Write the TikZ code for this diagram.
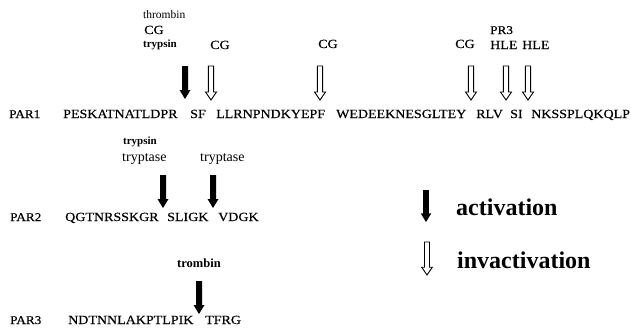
\documentclass[tikz,border=0pt]{standalone}
\usepackage{fontspec}
\setmainfont{Liberation Serif}
% wide, slightly heavy face for the amino-acid sequences and protease codes
\newfontfamily\seqfont[FakeStretch=1.12, FakeBold=0.4]{Liberation Serif}
\begin{document}
\begin{tikzpicture}[x=1pt,y=-1pt,
  seq/.style={font=\seqfont\fontsize{12.5}{14}\selectfont, inner sep=0pt, anchor=base west},
  parlab/.style={font=\seqfont\fontsize{11.8}{13}\selectfont, inner sep=0pt, anchor=base west},
  enzyme/.style={font=\seqfont\fontsize{12.5}{15}\selectfont, inner sep=0pt, anchor=base west},
  smallbold/.style={font=\bfseries\fontsize{11}{13}\selectfont, inner sep=0pt, anchor=base west},
  smallreg/.style={font=\fontsize{11.5}{13}\selectfont, inner sep=0pt, anchor=base west},
  tryptaselab/.style={font=\fontsize{14}{16}\selectfont, inner sep=0pt, anchor=base west},
  legendlab/.style={font=\bfseries\fontsize{24}{28}\selectfont, inner sep=0pt, anchor=base west},
  actarrow/.pic={\fill (-3,0) -- (3,0) -- (3,24) -- (5.5,24) -- (0,33) -- (-5.5,24) -- (-3,24) -- cycle;},
  inactarrow/.pic={\draw[line width=0.9pt, fill=white, line join=miter]
      (-2.6,0) -- (2.6,0) -- (2.6,26) -- (5.5,26) -- (0,34) -- (-5.5,26) -- (-2.6,26) -- cycle;}
]
\useasboundingbox[fill=white] (0,0) rectangle (631,327);

% ---------------- PAR1 ----------------
\node[parlab] (par1) at (9,118)  {PAR1};
\node[seq] (p1a)   at (63,118)  {PESKATNATLDPR};
\node[seq] (p1b)   at (190,118) {SF};
\node[seq] (p1c)   at (216,118) {LLRNPNDKYEPF};
\node[seq] (p1d)   at (336,118) {WEDEEKNESGLTEY};
\node[seq] (p1e)   at (476,118) {RLV};
\node[seq] (p1f)   at (510,118) {SI};
\node[seq] (p1g)   at (531,118) {NKSSPLQKQLP};

\node[smallreg]  (thr1) at (143,18) {thrombin};
\node[enzyme]    (cg1)  at (144,34) {CG};
\node[smallbold] (try1) at (143,47) {trypsin};
\node[enzyme]    (cg2)  at (210,49) {CG};
\node[enzyme]    (cg3)  at (318,48) {CG};
\node[enzyme]    (cg4)  at (455,48) {CG};
\node[parlab]    (pr3)  at (490,34) {PR3};
\node[enzyme]    (hle1) at (490,49) {HLE};
\node[enzyme]    (hle2) at (522,49) {HLE};

\pic at (185,66) {actarrow};
\pic at (211,66) {inactarrow};
\pic at (320,66) {inactarrow};
\pic at (471,66) {inactarrow};
\pic at (506,66) {inactarrow};
\pic at (528,66) {inactarrow};

% ---------------- PAR2 ----------------
\node[parlab] (par2) at (10,221) {PAR2};
\node[seq] (p2a)  at (65,221)  {QGTNRSSKGR};
\node[seq] (p2b)  at (167,221) {SLIGK};
\node[seq] (p2c)  at (218,221) {VDGK};

\node[smallbold]   (try2) at (123,144) {trypsin};
\node[tryptaselab] (tpa1) at (122,161) {tryptase};
\node[tryptaselab] (tpa2) at (200,161) {tryptase};

\pic at (163,175) {actarrow};
\pic at (213,175) {actarrow};

% ---------------- PAR3 ----------------
\node[parlab] (par3) at (10,324) {PAR3};
\node[seq] (p3a)  at (68,324)  {NDTNNLAKPTLPIK};
\node[seq] (p3b)  at (205,324) {TFRG};

\node[smallbold] (trb) at (177,267) {\fontsize{12.5}{14}\selectfont trombin};
\pic at (199,281) {actarrow};

% ---------------- legend ----------------
\pic[scale=0.97] at (426,190) {actarrow};
\pic[scale=0.97] at (427,242) {inactarrow};
\node[legendlab] (act)   at (456,215) {activation};
\node[legendlab] (inact) at (457,268) {invactivation};
\end{tikzpicture}
\end{document}
